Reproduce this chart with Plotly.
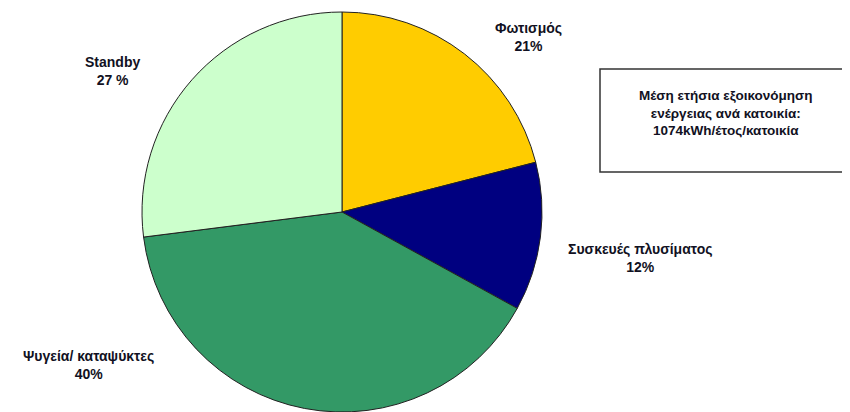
import plotly.graph_objects as go

labels = ["Φωτισμός", "Συσκευές πλυσίματος", "Ψυγεία/ καταψύκτες", "Standby"]
values = [21, 12, 40, 27]
pct_text = ["21%", "12%", "40%", "27 %"]
colors = ["#FFCC00", "#000080", "#339966", "#CCFFCC"]
label_pos = [(528, 37), (640, 258), (88, 365), (112, 71)]  # pixel positions of label centres (page coords)

box_lines = ["Μέση ετήσια εξοικονόμηση", "ενέργειας ανά κατοικία:", "1074kWh/έτος/κατοικία"]

OFF = 8  # page body margin offset
W, H = 850 - OFF, 412 - OFF
cx, cy, r = 342 - OFF, 212 - OFF, 200

fig = go.Figure(go.Pie(
    labels=labels,
    values=values,
    sort=False,
    direction="clockwise",
    rotation=0,
    marker=dict(colors=colors, line=dict(color="#222222", width=1)),
    textinfo="none",
    hoverinfo="label+percent",
    showlegend=False,
    domain=dict(x=[(cx - r) / W, (cx + r) / W], y=[(H - cy - r) / H, (H - cy + r) / H]),
))

font = dict(family="Liberation Sans, Arial, sans-serif", size=14, color="#111122")

for lab, p, (px, py) in zip(labels, pct_text, label_pos):
    fig.add_annotation(
        x=(px - OFF) / W, y=1 - (py - OFF) / H, xref="paper", yref="paper",
        text=f"<b>{lab}</b><br><b>{p}</b>", showarrow=False,
        font=font, align="center", xanchor="center", yanchor="middle",
    )

fig.add_shape(type="rect", xref="paper", yref="paper",
              x0=(600 - OFF) / W, x1=(847 - OFF) / W, y0=1 - (172 - OFF) / H, y1=1 - (69 - OFF) / H,
              line=dict(color="#333333", width=1.5), fillcolor="rgba(0,0,0,0)")
fig.add_annotation(
    x=(726 - OFF) / W, y=1 - (113 - OFF) / H, xref="paper", yref="paper",
    text="<br>".join(f"<b>{t}</b>" for t in box_lines), showarrow=False,
    font=dict(family="Liberation Sans, Arial, sans-serif", size=13.5, color="#111122"),
    align="center", xanchor="center", yanchor="middle",
)

fig.update_layout(
    width=W, height=H,
    margin=dict(l=0, r=0, t=0, b=0),
    paper_bgcolor="white", plot_bgcolor="white",
)

fig.write_html("out.html")
